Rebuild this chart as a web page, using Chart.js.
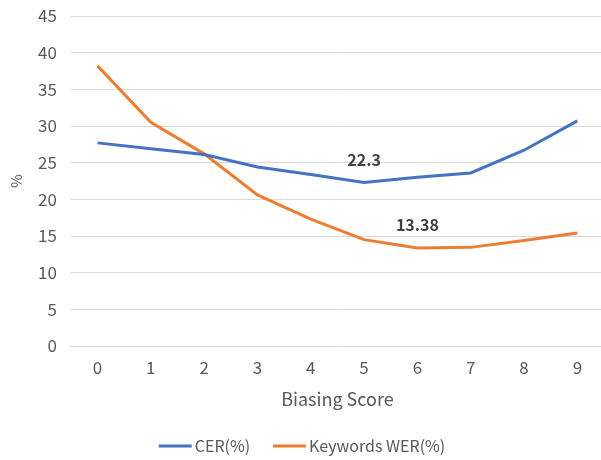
<!DOCTYPE html>
<html><head><meta charset="utf-8">
<script src="https://cdn.jsdelivr.net/npm/chart.js@4/dist/chart.umd.min.js"></script>
<style>html,body{margin:0;padding:0;background:#fff;overflow:hidden}#wrap{width:601px;height:460px;overflow:hidden}</style>
</head><body><div id="wrap"><canvas id="c" width="604" height="460"></canvas></div>
<script>
const categories = ["0","1","2","3","4","5","6","7","8","9"];
const cerValues = [27.7, 26.9, 26.1, 24.4, 23.4, 22.3, 23.0, 23.6, 26.7, 30.7];
const werValues = [38.2, 30.5, 26.2, 20.6, 17.3, 14.5, 13.38, 13.45, 14.4, 15.4];
const seriesNames = ["CER(%)", "Keywords WER(%)"];
const annotated = [{series:0, index:5, text:"22.3"}, {series:1, index:6, text:"13.38"}];
const FONT = "'Noto Sans CJK SC', 'Noto Sans', sans-serif";

const labelPlugin = {
  id: 'pointLabels',
  afterDatasetsDraw(chart) {
    const ctx = chart.ctx;
    ctx.save();
    ctx.font = "bold 16px " + FONT;
    ctx.fillStyle = "#404040";
    ctx.textAlign = "center";
    ctx.textBaseline = "middle";
    annotated.forEach(a => {
      const el = chart.getDatasetMeta(a.series).data[a.index];
      ctx.fillText(a.text, el.x, el.y - 23);
    });
    ctx.restore();
  }
};

const legendPlugin = {
  id: 'lineLegend',
  afterDraw(chart) {
    const ctx = chart.ctx;
    ctx.save();
    ctx.font = "16px " + FONT;
    ctx.textBaseline = "middle";
    ctx.textAlign = "left";
    const lineW = 33, gap = 3, spacing = 23, y = 446;
    const items = chart.data.datasets.map(d => ({text: d.label, color: d.borderColor, w: ctx.measureText(d.label).width}));
    const total = items.reduce((s, it) => s + lineW + gap + it.w, 0) + spacing * (items.length - 1);
    let x = chart.width / 2 - total / 2;
    items.forEach(it => {
      ctx.strokeStyle = it.color;
      ctx.lineWidth = 3;
      ctx.beginPath();
      ctx.moveTo(x, y);
      ctx.lineTo(x + lineW, y);
      ctx.stroke();
      x += lineW + gap;
      ctx.fillStyle = '#595959';
      ctx.fillText(it.text, x, y);
      x += it.w + spacing;
    });
    ctx.restore();
  }
};

new Chart(document.getElementById('c'), {
  type: 'line',
  data: {
    labels: categories,
    datasets: [
      {label: seriesNames[0], data: cerValues, borderColor: '#4472C4', backgroundColor: '#4472C4', borderWidth: 3, pointRadius: 0, tension: 0},
      {label: seriesNames[1], data: werValues, borderColor: '#ED7D31', backgroundColor: '#ED7D31', borderWidth: 3, pointRadius: 0, tension: 0}
    ]
  },
  options: {
    responsive: false,
    animation: false,
    layout: {padding: {left: 7, right: 0, top: 0, bottom: 39}},
    plugins: {
      legend: {display: false},
      tooltip: {enabled: false}
    },
    scales: {
      x: {
        offset: true,
        grid: {display: false, drawTicks: false},
        border: {display: true, color: '#d9d9d9', width: 1},
        ticks: {font: {family: FONT, size: 17}, color: '#595959', padding: 11},
        title: {display: true, text: 'Biasing Score', font: {family: FONT, size: 18}, color: '#595959', padding: {top: 0, bottom: 11}}
      },
      y: {
        min: 0, max: 45,
        afterFit(s) { s.paddingTop = 16; },
        ticks: {stepSize: 5, font: {family: FONT, size: 17}, color: '#595959', padding: 14},
        grid: {color: '#d9d9d9', lineWidth: 1, drawTicks: false},
        border: {display: false},
        title: {display: true, text: '%', font: {family: FONT, size: 15}, color: '#595959', padding: {top: 0, bottom: -1}}
      }
    }
  },
  plugins: [labelPlugin, legendPlugin]
});
</script></body></html>
